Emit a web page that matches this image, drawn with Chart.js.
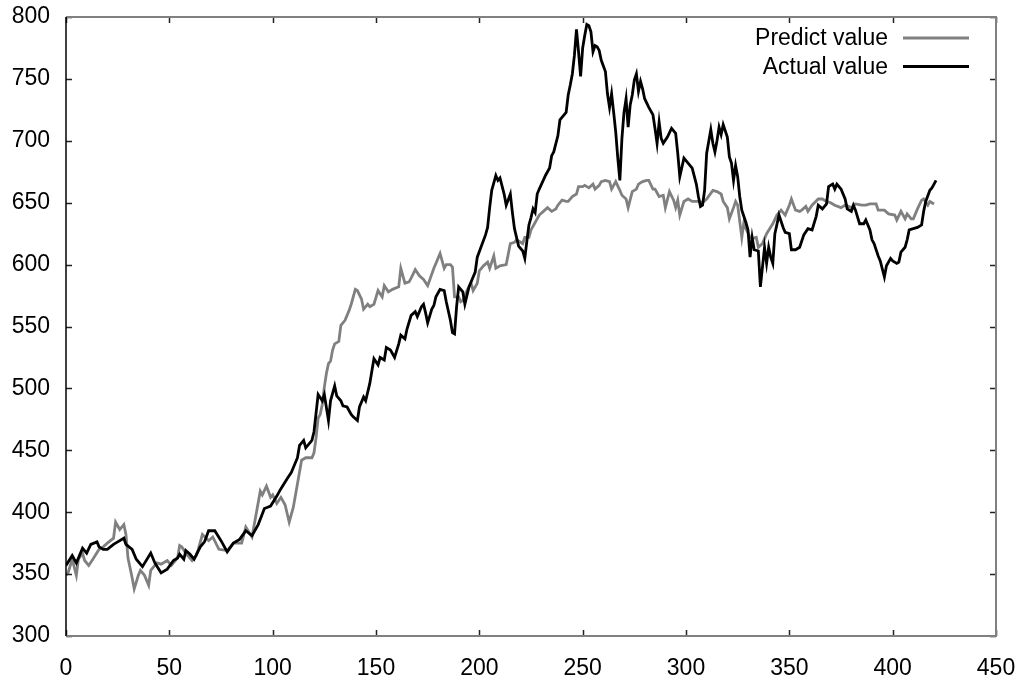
<!DOCTYPE html>
<html>
<head>
<meta charset="utf-8">
<title>Predict vs Actual</title>
<script src="https://cdn.jsdelivr.net/npm/chart.js@4.4.1/dist/chart.umd.min.js"></script>
<style>
    body { margin: 0; background: #fff; }
    canvas { display: block; }
</style>
</head>
<body>
<canvas id="myChart" width="1029" height="679"></canvas>
<script>
'use strict'

// day index, value
const predictValue = [
    [0, 349], [1, 351], [3, 362], [5, 349], [6, 362], [8, 367], [9, 361], [11, 357], [13, 362], [16, 370],
    [18, 372], [20, 375], [23, 379], [24, 392], [26, 386], [28, 390], [29, 382], [30, 363], [32, 347], [33, 338],
    [35, 349], [36, 353], [38, 349], [40, 341], [41, 353], [44, 359], [46, 358], [49, 361], [51, 357], [54, 363],
    [55, 373], [56, 372], [58, 367], [61, 361], [63, 365], [64, 370], [66, 382], [69, 377], [71, 380], [74, 370],
    [78, 369], [81, 375], [85, 375], [87, 388], [90, 380], [94, 417], [95, 414], [97, 421], [99, 412], [100, 414],
    [102, 407], [104, 412], [106, 406], [108, 392], [110, 404], [112, 423], [114, 442], [116, 444], [119, 444], [120, 448],
    [121, 460], [122, 476], [123, 479], [124, 487], [125, 501], [126, 512], [127, 520], [128, 522], [129, 531], [130, 536],
    [132, 538], [133, 551], [135, 555], [137, 563], [138, 568], [140, 580], [141, 579], [143, 572], [144, 564], [146, 568],
    [147, 566], [149, 568], [151, 579], [153, 574], [154, 583], [156, 578], [158, 580], [161, 582], [162, 597], [164, 585],
    [166, 586], [167, 589], [169, 596], [171, 591], [173, 588], [175, 583], [178, 597], [179, 601], [181, 609], [183, 597],
    [184, 600], [186, 600], [187, 598], [188, 574], [190, 574], [191, 570], [192, 571], [194, 579], [196, 585], [197, 579],
    [199, 585], [200, 595], [202, 599], [204, 602], [205, 597], [207, 607], [208, 597], [210, 599], [213, 600], [215, 617],
    [217, 618], [218, 620], [221, 617], [222, 622], [224, 622], [225, 628], [227, 634], [229, 640], [231, 643], [233, 646],
    [235, 643], [237, 645], [238, 648], [240, 652], [242, 651], [243, 651], [245, 655], [247, 657], [248, 663], [250, 663],
    [251, 664], [253, 662], [255, 665], [256, 661], [258, 664], [259, 667], [261, 668], [263, 667], [264, 661], [266, 667],
    [268, 660], [269, 656], [271, 653], [272, 646], [274, 659], [276, 661], [277, 665], [279, 667], [281, 668], [282, 668],
    [284, 661], [285, 661], [287, 655], [289, 656], [290, 646], [292, 659], [294, 652], [295, 646], [296, 652], [297, 640],
    [299, 651], [301, 653], [303, 651], [306, 651], [308, 650], [310, 653], [313, 660], [315, 659], [317, 657], [318, 651],
    [320, 646], [321, 637], [323, 646], [324, 651], [325, 648], [327, 622], [328, 634], [329, 629], [331, 622], [332, 621],
    [334, 622], [335, 614], [337, 617], [339, 625], [342, 633], [344, 640], [346, 644], [348, 640], [350, 648], [351, 653],
    [353, 644], [355, 643], [356, 644], [358, 647], [359, 643], [361, 648], [364, 653], [366, 653], [368, 651], [370, 650],
    [372, 648], [375, 646], [377, 648], [380, 646], [382, 649], [385, 648], [387, 648], [389, 649], [392, 649], [393, 644],
    [396, 644], [398, 641], [401, 640], [402, 636], [404, 643], [406, 637], [407, 641], [409, 637], [410, 637], [412, 645],
    [414, 652], [415, 653], [417, 648], [418, 651], [420, 649]
]

const actualValue = [
    [0, 357], [3, 365], [5, 359], [8, 371], [10, 367], [12, 374], [15, 376], [16, 372], [18, 370], [20, 370],
    [23, 374], [25, 376], [28, 379], [29, 374], [32, 370], [34, 362], [37, 356], [41, 367], [43, 359], [46, 351],
    [49, 354], [52, 361], [54, 363], [55, 366], [57, 362], [58, 369], [60, 366], [62, 362], [65, 372], [67, 376],
    [69, 385], [72, 385], [75, 377], [78, 368], [81, 375], [84, 378], [87, 385], [90, 381], [93, 390], [96, 403],
    [99, 405], [102, 413], [104, 419], [107, 427], [109, 432], [112, 444], [113, 454], [115, 458], [116, 452], [119, 458],
    [120, 465], [121, 480], [122, 495], [124, 490], [125, 495], [127, 474], [128, 490], [130, 502], [131, 494], [133, 490],
    [134, 486], [136, 485], [138, 479], [139, 477], [141, 474], [142, 485], [144, 493], [145, 490], [147, 504], [148, 514],
    [149, 524], [151, 519], [152, 525], [154, 523], [155, 533], [157, 531], [159, 525], [161, 536], [162, 543], [164, 540],
    [165, 548], [167, 559], [169, 562], [170, 558], [172, 566], [173, 568], [174, 561], [175, 553], [177, 564], [178, 567],
    [179, 574], [181, 580], [183, 579], [184, 570], [186, 555], [187, 545], [188, 544], [189, 566], [190, 582], [192, 578],
    [193, 568], [195, 582], [197, 590], [198, 594], [199, 606], [201, 615], [203, 624], [204, 630], [205, 646], [206, 660],
    [208, 672], [209, 668], [210, 670], [212, 657], [213, 648], [215, 657], [216, 642], [217, 629], [219, 615], [221, 611],
    [222, 605], [223, 619], [224, 632], [225, 638], [226, 645], [227, 642], [228, 657], [229, 661], [232, 672], [234, 678],
    [235, 688], [236, 691], [238, 704], [239, 717], [241, 721], [242, 723], [243, 737], [244, 745], [245, 754], [246, 769],
    [247, 790], [248, 772], [249, 752], [250, 775], [251, 785], [252, 794], [253, 793], [254, 788], [255, 772], [256, 777],
    [257, 776], [258, 773], [259, 765], [261, 756], [262, 738], [263, 727], [264, 738], [265, 723], [266, 707], [267, 686],
    [268, 668], [269, 702], [270, 723], [271, 734], [272, 711], [273, 729], [274, 737], [275, 749], [276, 754], [277, 740],
    [278, 748], [279, 742], [280, 734], [282, 727], [284, 721], [285, 710], [286, 698], [287, 715], [288, 702], [289, 698],
    [291, 703], [293, 710], [295, 706], [296, 690], [297, 671], [299, 686], [301, 682], [303, 678], [305, 665], [306, 655],
    [307, 647], [308, 648], [309, 660], [310, 690], [312, 709], [313, 698], [314, 691], [315, 700], [316, 711], [317, 705],
    [318, 713], [320, 703], [321, 687], [322, 682], [323, 668], [324, 680], [325, 671], [326, 655], [327, 644], [329, 634],
    [330, 628], [331, 606], [332, 622], [333, 612], [335, 611], [336, 582], [337, 598], [338, 614], [339, 601], [340, 614],
    [341, 606], [342, 601], [343, 625], [345, 640], [347, 630], [348, 626], [350, 625], [351, 612], [353, 612], [355, 614],
    [357, 624], [359, 629], [361, 628], [363, 639], [364, 648], [366, 645], [368, 649], [369, 663], [371, 665], [372, 661],
    [373, 665], [375, 661], [377, 653], [378, 645], [380, 643], [381, 648], [382, 644], [384, 633], [386, 633], [387, 636],
    [389, 628], [390, 620], [391, 617], [393, 607], [394, 603], [396, 590], [397, 599], [399, 605], [400, 603], [402, 601],
    [403, 602], [404, 610], [406, 614], [407, 620], [408, 628], [410, 629], [412, 630], [414, 632], [415, 643], [416, 651],
    [418, 660], [419, 662], [421, 668]
]

const xTicks = [0, 50, 100, 150, 200, 250, 300, 350, 400, 450]
const yTicks = [300, 350, 400, 450, 500, 550, 600, 650, 700, 750, 800]

const FONT = { family: '"Liberation Sans", Arial, sans-serif', size: 23 }


// gnuplot-like box: inward ticks on every side, black left axis, grey border
const frameBox = {
    id: 'frameBox',
    afterDatasetsDraw(chart) {
        const { ctx, chartArea: a, scales: { x, y } } = chart
        const len = 6
        ctx.save()
        ctx.lineWidth = 1.5
        ctx.strokeStyle = '#222'
        ctx.beginPath()
        xTicks.forEach(v => {
            const px = Math.round(x.getPixelForValue(v)) + .5
            ctx.moveTo(px, a.bottom); ctx.lineTo(px, a.bottom - len)
            ctx.moveTo(px, a.top); ctx.lineTo(px, a.top + len)
        })
        yTicks.forEach(v => {
            const py = Math.round(y.getPixelForValue(v)) + .5
            ctx.moveTo(a.left, py); ctx.lineTo(a.left + len, py)
            ctx.moveTo(a.right, py); ctx.lineTo(a.right - len, py)
        })
        ctx.stroke()

        ctx.strokeStyle = '#808080'
        ctx.lineWidth = 2
        ctx.beginPath()
        ctx.moveTo(a.left, a.top); ctx.lineTo(a.right, a.top)
        ctx.lineTo(a.right, a.bottom); ctx.lineTo(a.left, a.bottom)
        ctx.stroke()

        ctx.strokeStyle = '#000'
        ctx.lineWidth = 1.5
        ctx.beginPath()
        ctx.moveTo(a.left, a.top); ctx.lineTo(a.left, a.bottom)
        ctx.stroke()
        ctx.restore()
    }
}

// key in the top right corner: title first, line sample after it
const keyBox = {
    id: 'keyBox',
    afterDraw(chart) {
        const { ctx, chartArea: a } = chart
        const textRight = a.right - 108
        const lineFrom = a.right - 93
        const lineTo = a.right - 27
        ctx.save()
        ctx.font = `${FONT.size}px ${FONT.family}`
        ctx.textAlign = 'right'
        ctx.textBaseline = 'middle'
        chart.data.datasets.forEach((ds, i) => {
            const yPos = a.top + 21 + i * 28.5
            ctx.fillStyle = '#000'
            ctx.fillText(ds.label, textRight, yPos + 1)
            ctx.strokeStyle = ds.borderColor
            ctx.lineWidth = ds.borderWidth
            ctx.beginPath()
            ctx.moveTo(lineFrom, yPos)
            ctx.lineTo(lineTo, yPos)
            ctx.stroke()
        })
        ctx.restore()
    }
}


function Diagramm() {
    const canvas = document.getElementById('myChart')
    const ctx = canvas.getContext('2d')

    const toPoints = arr => arr.map(p => ({ x: p[0], y: p[1] }))

    new Chart(ctx, {
        type: 'line',
        data: {
            datasets: [{
                label: 'Predict value',
                data: toPoints(predictValue),
                borderColor: '#808080',
                borderWidth: 2.8,
                pointRadius: 0,
                tension: 0,
                order: 2
            }, {
                label: 'Actual value',
                data: toPoints(actualValue),
                borderColor: '#000000',
                borderWidth: 2.8,
                pointRadius: 0,
                tension: 0,
                order: 1
            }]
        },
        options: {
            responsive: false,
            animation: false,
            layout: { padding: { top: 17, right: 33, left: 0, bottom: 0 } },
            plugins: {
                legend: { display: false },
                tooltip: { enabled: false }
            },
            scales: {
                x: {
                    type: 'linear',
                    min: 0,
                    max: 450,
                    grid: { display: false, drawTicks: false },
                    border: { display: false },
                    afterBuildTicks: s => { s.ticks = xTicks.map(v => ({ value: v })) },
                    afterFit: s => {
                        s.height = 43
                        s.paddingLeft = 0
                        s.paddingRight = 0
                    },
                    ticks: { color: '#000', font: FONT, padding: 19, maxRotation: 0 }
                },
                y: {
                    min: 300,
                    max: 800,
                    grid: { display: false, drawTicks: false },
                    border: { display: false },
                    afterBuildTicks: s => { s.ticks = yTicks.map(v => ({ value: v })) },
                    afterFit: s => {
                        s.width = 66
                        s.paddingTop = 0
                        s.paddingBottom = 0
                    },
                    ticks: { color: '#000', font: FONT, padding: 16 }
                }
            }
        },
        plugins: [frameBox, keyBox]
    })
}

document.addEventListener('DOMContentLoaded', Diagramm)
</script>
</body>
</html>
